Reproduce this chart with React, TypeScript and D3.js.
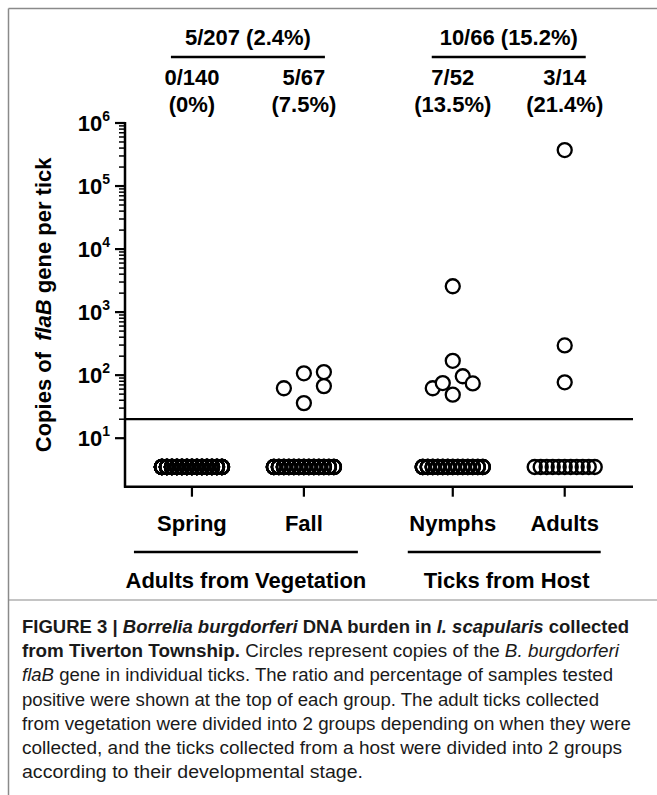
import React from "react";
import * as d3 from "d3";

// ---------- data ----------
const categories = ["Spring", "Fall", "Nymphs", "Adults"];
const categoryGroup = [0, 0, 1, 1];
const groupNames = ["Adults from Vegetation", "Ticks from Host"];
const groupRatios = ["5/207 (2.4%)", "10/66 (15.2%)"];
const ratioLabels = ["0/140", "5/67", "7/52", "3/14"];
const pctLabels = ["(0%)", "(7.5%)", "(13.5%)", "(21.4%)"];
const negativeCounts = [140, 62, 45, 11];
const NEGATIVE_PLOT_VALUE = 3.5; // below-detection ticks plotted here
const CUTOFF = 20;

const springPositive: number[] = [];
const springSlots: number[] = [];
const fallPositive = [62, 107, 112, 67, 36];
const fallSlots = [-2, 0, 2, 2, 0];
const nymphPositive = [2570, 169, 62, 75, 96, 74, 49];
const nymphSlots = [0, 0, -2, -1, 1, 2, 0];
const adultPositive = [372000, 296, 77];
const adultSlots = [0, 0, 0];

const positives = [springPositive, fallPositive, nymphPositive, adultPositive];
const slots = [springSlots, fallSlots, nymphSlots, adultSlots];
const yTickExponents = [1, 2, 3, 4, 5, 6];

// ---------- layout ----------
const W = 657;
const H = 795;
const AX_LEFT = 125;
const AX_RIGHT = 633;
const AX_BOTTOM = 486.7;
const AX_TOP = 123;
const R = 7;
const FONT = "'Liberation Sans', Arial, Helvetica, sans-serif";
const CAP_FONT = "'Liberation Sans Narrow', 'Liberation Sans', Arial, sans-serif";

const y = d3.scaleLog().domain([1.7, 1e6]).range([AX_BOTTOM, AX_TOP]);
const x = d3.scaleLinear().domain([-0.598, 3.94]).range([AX_LEFT, AX_RIGHT]);
const slotScale = d3.scaleLinear().domain([-1, 1]).range([-10, 10]);
const GROUP_GAP = 0.33;
const cx = (i: number) => x(i + categoryGroup[i] * GROUP_GAP);

const minorTicks: number[] = [];
for (let e = 1; e < 6; e++) for (let m = 2; m <= 9; m++) minorTicks.push(m * Math.pow(10, e));

const captionLines: { parts: { t: string; b?: boolean; i?: boolean }[]; len: number }[] = [
  {
    parts: [
      { t: "FIGURE 3 | ", b: true },
      { t: "Borrelia burgdorferi", b: true, i: true },
      { t: " DNA burden in ", b: true },
      { t: "I. scapularis", b: true, i: true },
      { t: " collected", b: true },
    ],
    len: 607,
  },
  {
    parts: [
      { t: "from Tiverton Township.", b: true },
      { t: " Circles represent copies of the " },
      { t: "B. burgdorferi", i: true },
    ],
    len: 597,
  },
  {
    parts: [
      { t: "flaB", i: true },
      { t: " gene in individual ticks. The ratio and percentage of samples tested" },
    ],
    len: 591,
  },
  { parts: [{ t: "positive were shown at the top of each group. The adult ticks collected" }], len: 577 },
  { parts: [{ t: "from vegetation were divided into 2 groups depending on when they were" }], len: 609 },
  { parts: [{ t: "collected, and the ticks collected from a host were divided into 2 groups" }], len: 600 },
  { parts: [{ t: "according to their developmental stage." }], len: 341 },
];

export default function App() {
  // negative ticks are laid out in one row, spread over ±3 slots
  const zeroOffsets = (n: number) => {
    const positions = Math.min(n, 13);
    return d3.range(n).map((k) => slotScale(-3 + (6 * (k % positions)) / (positions - 1)));
  };

  return (
    <svg
      width={W}
      height={H}
      viewBox={`0 0 ${W} ${H}`}
      style={{ position: "absolute", left: 0, top: 0, background: "#fff" }}
      fontFamily={FONT}
    >
      <rect x={0} y={0} width={W} height={H} fill="#fff" />
      {/* frame (cropped: top and left edges only) */}
      <line x1={8.5} x2={W} y1={8.5} y2={8.5} stroke="#8a8a8a" strokeWidth={1.5} />
      <line x1={8.5} x2={8.5} y1={8.5} y2={H} stroke="#8a8a8a" strokeWidth={1.5} />
      <line x1={8.5} x2={W} y1={600} y2={600} stroke="#8a8a8a" strokeWidth={1.2} />

      {/* top ratio labels */}
      {groupRatios.map((g, gi) => {
        const idx = categories.map((_, i) => i).filter((i) => categoryGroup[i] === gi);
        const c = (cx(idx[0]) + cx(idx[idx.length - 1])) / 2;
        return (
          <g key={g}>
            <text x={c} y={45} textAnchor="middle" fontSize={22} fontWeight="bold">
              {g}
            </text>
            <line x1={c - 77} x2={c + 77} y1={57} y2={57} stroke="#000" strokeWidth={2.5} />
          </g>
        );
      })}
      {categories.map((c, i) => (
        <g key={"lab" + c}>
          <text x={cx(i)} y={85} textAnchor="middle" fontSize={22} fontWeight="bold">
            {ratioLabels[i]}
          </text>
          <text x={cx(i)} y={112} textAnchor="middle" fontSize={22} fontWeight="bold">
            {pctLabels[i]}
          </text>
        </g>
      ))}

      {/* y axis */}
      <line x1={AX_LEFT} x2={AX_LEFT} y1={AX_TOP - 1} y2={AX_BOTTOM + 1} stroke="#000" strokeWidth={2.5} />
      {minorTicks.map((v) => (
        <line key={"m" + v} x1={AX_LEFT - 6} x2={AX_LEFT} y1={y(v)} y2={y(v)} stroke="#000" strokeWidth={1.5} />
      ))}
      {yTickExponents.map((e) => (
        <g key={"t" + e}>
          <line x1={AX_LEFT - 10} x2={AX_LEFT} y1={y(Math.pow(10, e))} y2={y(Math.pow(10, e))} stroke="#000" strokeWidth={2.2} />
          <text x={AX_LEFT - 15} y={y(Math.pow(10, e)) + 8} textAnchor="end" fontSize={22} fontWeight="bold">
            10
            <tspan dy={-10} fontSize={14}>
              {e}
            </tspan>
          </text>
        </g>
      ))}
      <text
        transform={`translate(51, ${(AX_TOP + AX_BOTTOM) / 2}) rotate(-90)`}
        textAnchor="middle"
        fontSize={22}
        fontWeight="bold"
      >
        Copies of{" "}
        <tspan dx={5} fontStyle="italic">
          flaB
        </tspan>{" "}
        gene per tick
      </text>

      {/* x axis */}
      <line x1={AX_LEFT - 1} x2={AX_RIGHT} y1={AX_BOTTOM} y2={AX_BOTTOM} stroke="#000" strokeWidth={2.5} />
      {categories.map((c, i) => (
        <line key={"xt" + c} x1={cx(i)} x2={cx(i)} y1={AX_BOTTOM} y2={AX_BOTTOM + 10} stroke="#000" strokeWidth={2.2} />
      ))}

      {/* cutoff line */}
      <line x1={AX_LEFT} x2={AX_RIGHT} y1={y(CUTOFF)} y2={y(CUTOFF)} stroke="#000" strokeWidth={2.2} />

      {/* negative points */}
      {categories.map((c, i) =>
        zeroOffsets(negativeCounts[i]).map((o, k) => (
          <circle
            key={"z" + c + k}
            cx={cx(i) + o}
            cy={y(NEGATIVE_PLOT_VALUE)}
            r={R}
            fill="none"
            stroke="#000"
            strokeWidth={2.4}
          />
        ))
      )}
      {/* positive points */}
      {categories.map((c, i) =>
        positives[i].map((v, k) => (
          <circle
            key={"p" + c + k}
            cx={cx(i) + slotScale(slots[i][k])}
            cy={y(v)}
            r={R}
            fill="#fff"
            stroke="#000"
            strokeWidth={2.3}
          />
        ))
      )}

      {/* category labels */}
      {categories.map((c, i) => (
        <text key={"cl" + c} x={cx(i)} y={531} textAnchor="middle" fontSize={22} fontWeight="bold">
          {c}
        </text>
      ))}
      {groupNames.map((g, gi) => {
        const idx = categories.map((_, i) => i).filter((i) => categoryGroup[i] === gi);
        const a = cx(idx[0]);
        const b = cx(idx[idx.length - 1]);
        const ext = gi === 0 ? [58, 54] : [45, 36];
        const center = (a + b) / 2 - 2;
        return (
          <g key={g}>
            <line x1={a - ext[0]} x2={b + ext[1]} y1={552} y2={552} stroke="#000" strokeWidth={2.5} />
            <text x={center} y={588} textAnchor="middle" fontSize={22} fontWeight="bold">
              {g}
            </text>
          </g>
        );
      })}

      {/* caption */}
      {captionLines.map((ln, li) => (
        <text
          key={"cap" + li}
          x={22}
          y={633 + li * 24.2}
          fontSize={17.5}
          fontFamily={CAP_FONT}
          fill="#1a1a1a"
          textLength={ln.len}
          lengthAdjust="spacingAndGlyphs"
        >
          {ln.parts.map((p, pi) => (
            <tspan key={pi} fontWeight={p.b ? "bold" : "normal"} fontStyle={p.i ? "italic" : "normal"}>
              {p.t}
            </tspan>
          ))}
        </text>
      ))}
    </svg>
  );
}
